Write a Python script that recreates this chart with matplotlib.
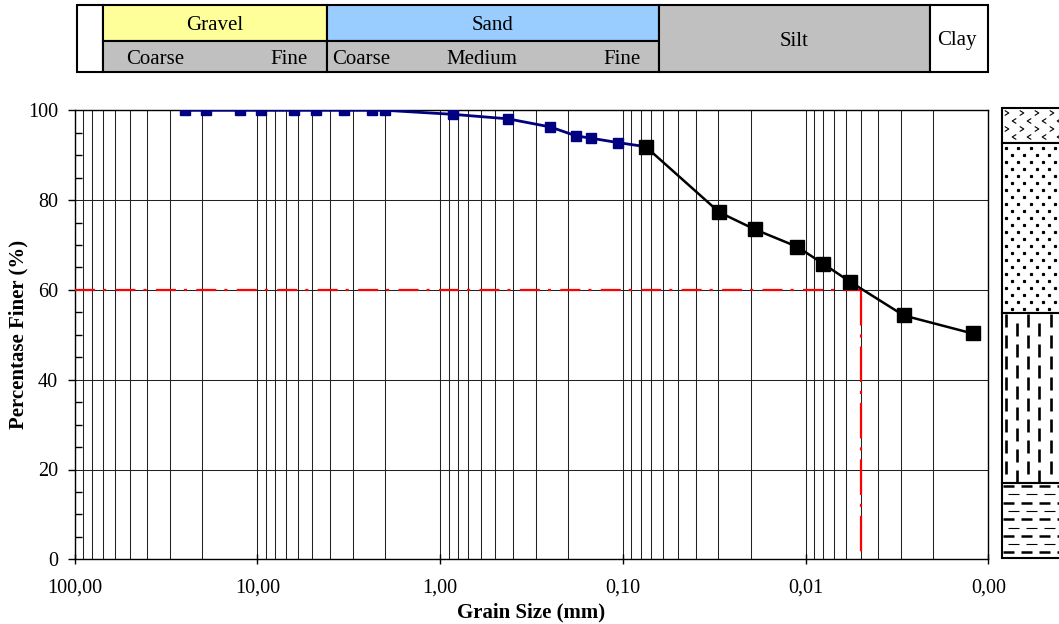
import matplotlib
matplotlib.use('Agg')
import matplotlib.pyplot as plt
import numpy as np
from matplotlib.ticker import FixedLocator, FixedFormatter, MultipleLocator, LogLocator, NullFormatter
from matplotlib.patches import Rectangle

plt.rcParams['font.family'] = ['Liberation Serif', 'DejaVu Serif']

# ---------------- data ----------------
sieve_size = [25.0, 19.0, 12.5, 9.5, 6.3, 4.75, 3.35, 2.36, 2.0,
              0.85, 0.425, 0.25, 0.18, 0.15, 0.106, 0.075]
sieve_pct = [100, 100, 100, 100, 100, 100, 100, 100, 100,
             99.1, 98.1, 96.3, 94.3, 93.8, 92.8, 91.9]
hydro_size = [0.075, 0.0297, 0.0190, 0.0111, 0.0080, 0.0057, 0.0029, 0.00122]
hydro_pct = [91.9, 77.3, 73.5, 69.6, 65.8, 61.8, 54.3, 50.3]
d60 = 0.005
p60 = 60
xtick_vals = [100, 10, 1, 0.1, 0.01, 0.001]
xtick_labels = ['100,00', '10,00', '1,00', '0,10', '0,01', '0,00']
ytick_vals = [0, 20, 40, 60, 80, 100]

W, H = 1059, 624
fig = plt.figure(figsize=(W / 100, H / 100), dpi=100)

# ---------------- main axes ----------------
L, R, T, B = 74.7, 988.3, 110.3, 559.3
ax = fig.add_axes([L / W, 1 - B / H, (R - L) / W, (B - T) / H])
ax.set_xscale('log')
ax.set_xlim(100, 0.001)
ax.set_ylim(0, 100)

ax.xaxis.set_major_locator(FixedLocator(xtick_vals))
ax.xaxis.set_major_formatter(FixedFormatter(xtick_labels))
ax.xaxis.set_minor_locator(LogLocator(base=10, subs=np.arange(2, 10)))
ax.xaxis.set_minor_formatter(NullFormatter())
ax.yaxis.set_major_locator(FixedLocator(ytick_vals))
ax.yaxis.set_minor_locator(MultipleLocator(5))

ax.xaxis.grid(True, which='both', color='#222222', lw=0.75)
ax.yaxis.grid(True, which='major', color='#222222', lw=0.75)
ax.set_axisbelow(True)

ax.tick_params(axis='x', which='major', direction='inout', length=7, width=1, pad=10, labelsize=14.5)
ax.tick_params(axis='x', which='minor', length=0)
ax.tick_params(axis='y', which='major', direction='out', length=5, width=1, pad=7, labelsize=14.5)
ax.tick_params(axis='y', which='minor', direction='in', length=5, width=1)
for s in ax.spines.values():
    s.set_color('black')
    s.set_linewidth(1.0)

ax.set_xlabel('Grain Size (mm)', fontsize=15, fontweight='bold', labelpad=4)
ax.set_ylabel('Percentase Finer (%)', fontsize=15, fontweight='bold')
ax.yaxis.set_label_coords(-0.0505, 0.5)

# D60 reference lines
ax.plot([100, d60], [p60, p60], color='#FF0000', lw=1.6,
        linestyle=(0, (9.0, 3.6, 1.4, 4.2)), zorder=3)
ax.plot([d60, d60], [p60, 0], color='#FF0000', lw=1.6,
        linestyle=(0, (16.0, 4.0, 1.4, 4.0)), zorder=3)

# data series
ax.plot(sieve_size, sieve_pct, color='#000080', lw=2.0, marker='s',
        markersize=6.5, markerfacecolor='#000080', markeredgecolor='#000080', zorder=4)
ax.plot(hydro_size, hydro_pct, color='black', lw=1.8, marker='s',
        markersize=10, markerfacecolor='black', markeredgecolor='black', zorder=5)

# ---------------- overlay in pixel coordinates ----------------
ov = fig.add_axes([0, 0, 1, 1], zorder=10)
ov.set_xlim(0, W)
ov.set_ylim(H, 0)
ov.axis('off')
ov.patch.set_alpha(0)

# classification table
ty0, tym, ty1 = 5.3, 40.7, 71.7
cells = [
    (76.7, 102.7, ty0, ty1, 'white'),
    (102.7, 326.7, ty0, tym, '#FFFF99'),
    (102.7, 326.7, tym, ty1, '#C0C0C0'),
    (326.7, 659.0, ty0, tym, '#99CCFF'),
    (326.7, 659.0, tym, ty1, '#C0C0C0'),
    (659.0, 930.0, ty0, ty1, '#C0C0C0'),
    (930.0, 988.0, ty0, ty1, 'white'),
]
for x0, x1, y0, y1, c in cells:
    ov.add_patch(Rectangle((x0, y0), x1 - x0, y1 - y0, facecolor=c,
                           edgecolor='black', lw=1.5))
tfs = 15
ov.text(214.7, 25.5, 'Gravel', ha='center', va='center', fontsize=tfs)
ov.text(492.8, 25.5, 'Sand', ha='center', va='center', fontsize=tfs)
ov.text(155, 59, 'Coarse', ha='center', va='center', fontsize=tfs)
ov.text(289, 59, 'Fine', ha='center', va='center', fontsize=tfs)
ov.text(361, 59, 'Coarse', ha='center', va='center', fontsize=tfs)
ov.text(482, 59, 'Medium', ha='center', va='center', fontsize=tfs)
ov.text(622, 59, 'Fine', ha='center', va='center', fontsize=tfs)
ov.text(794.5, 42, 'Silt', ha='center', va='center', fontsize=tfs)
ov.text(957, 40, 'Clay', ha='center', va='center', fontsize=tfs)

# soil column on the right
cx0, cx1 = 1002.0, 1075.0
cy = [107.7, 142.7, 313.3, 483.0, 558.3]
for i in range(4):
    ov.add_patch(Rectangle((cx0, cy[i]), cx1 - cx0, cy[i + 1] - cy[i],
                           facecolor='white', edgecolor='black', lw=1.5, zorder=2))

# gravel chevrons (small line marks)
rows = [113.0, 121.0, 129.0, 137.0]
for k, yy in enumerate(rows):
    sgn = 1 if k % 2 == 0 else -1
    off = 5 if k % 2 == 0 else 12
    for xx in np.arange(cx0 + off, W + 5, 15):
        ov.plot([xx - 1.8 * sgn, xx + 1.8 * sgn, xx - 1.8 * sgn],
                [yy - 2.2, yy, yy + 2.2], color='black', lw=0.8, zorder=3)

# sand dots
dx, dy = [], []
for k, yy in enumerate(np.arange(cy[1] + 5, cy[2] - 2, 7.0)):
    off = 4 if k % 2 == 0 else 10
    for xx in np.arange(cx0 + off, W + 5, 12.3):
        dx.append(xx)
        dy.append(yy)
ov.plot(dx, dy, linestyle='none', marker='s', markersize=1.3,
        color='black', zorder=3)

# silt vertical dashes
for k, xx in enumerate(np.arange(cx0 + 3.5, W + 5, 11.3)):
    start = cy[2] + (1 if k % 2 == 0 else 10)
    ys = np.arange(start, cy[3], 21)
    for y0 in ys:
        ov.plot([xx, xx], [y0, min(y0 + 13, cy[3])], color='black',
                lw=1.9, solid_capstyle='butt', zorder=3)

# clay horizontal dashes
for k, yy in enumerate(np.arange(cy[3] + 3, cy[4] - 1, 8.3)):
    thick = (k % 2 == 0)
    off = 1 if thick else 6
    for xx in np.arange(cx0 + off, W + 5, 18):
        ov.plot([xx, xx + 11], [yy, yy], color='black',
                lw=1.8 if thick else 0.8, solid_capstyle='butt', zorder=3)

fig.savefig('out.png', dpi=100)
